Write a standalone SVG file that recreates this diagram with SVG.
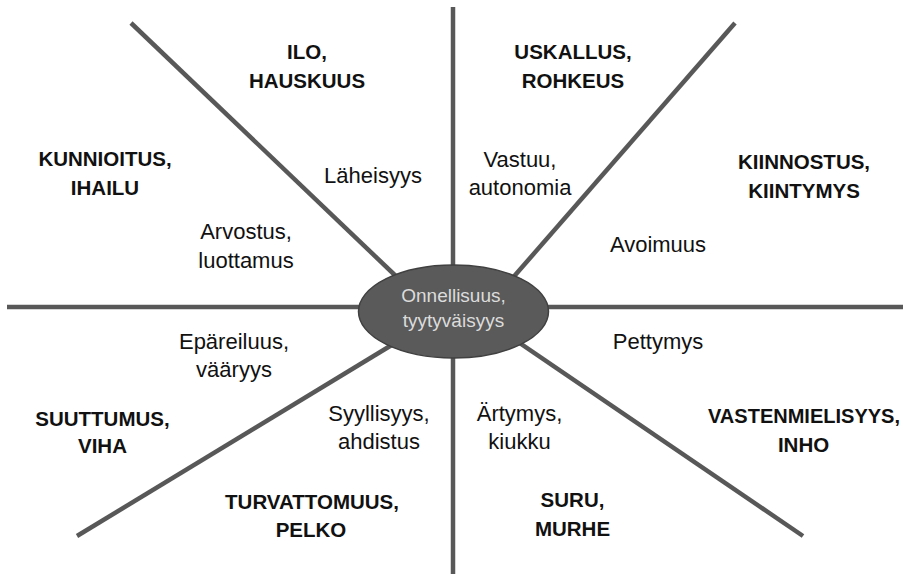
<svg xmlns="http://www.w3.org/2000/svg" width="903" height="574" viewBox="0 0 903 574">
<style>
.ln{stroke:#585858;stroke-width:4.5;fill:none}
.b{font-family:"Liberation Sans",Arial,sans-serif;font-weight:bold;font-size:20.5px;fill:#111;text-anchor:middle}
.r{font-family:"Liberation Sans",Arial,sans-serif;font-size:22px;fill:#111;text-anchor:middle}
.c{font-family:"Liberation Sans",Arial,sans-serif;font-size:19px;fill:#dcdcdc;text-anchor:middle}
</style>
<rect width="903" height="574" fill="#fff"/>
<g id="connectors">
<line class="ln" x1="453" y1="7" x2="453" y2="574"/>
<line class="ln" x1="7" y1="307" x2="903" y2="307"/>
<line class="ln" x1="131" y1="23" x2="400" y2="280"/>
<line class="ln" x1="735" y1="23" x2="510" y2="281"/>
<line class="ln" x1="77" y1="536" x2="400" y2="340"/>
<line class="ln" x1="803" y1="536" x2="508" y2="335"/>
</g>
<g id="center">
<ellipse cx="453.5" cy="311.5" rx="95" ry="46.5" fill="#5a5a5a" stroke="#404040" stroke-width="1.5"/>
<text class="c" x="453.5" y="302">Onnellisuus,</text>
<text class="c" x="453.5" y="327">tyytyväisyys</text>
</g>
<g id="ilo"><text class="b" x="307" y="59">ILO,</text><text class="b" x="307" y="88">HAUSKUUS</text></g>
<g id="kunnioitus"><text class="b" x="105" y="166">KUNNIOITUS,</text><text class="b" x="105" y="195">IHAILU</text></g>
<g id="laheisyys"><text class="r" x="373" y="183">Läheisyys</text></g>
<g id="arvostus"><text class="r" x="246" y="239">Arvostus,</text><text class="r" x="246" y="268">luottamus</text></g>
<g id="uskallus"><text class="b" x="573" y="59">USKALLUS,</text><text class="b" x="573" y="88">ROHKEUS</text></g>
<g id="vastuu"><text class="r" x="520" y="167">Vastuu,</text><text class="r" x="520" y="195">autonomia</text></g>
<g id="kiinnostus"><text class="b" x="804" y="169">KIINNOSTUS,</text><text class="b" x="804" y="198">KIINTYMYS</text></g>
<g id="avoimuus"><text class="r" x="658" y="252">Avoimuus</text></g>
<g id="epareiluus"><text class="r" x="234" y="349">Epäreiluus,</text><text class="r" x="234" y="377">vääryys</text></g>
<g id="suuttumus"><text class="b" x="102.5" y="426">SUUTTUMUS,</text><text class="b" x="102.5" y="453">VIHA</text></g>
<g id="syyllisyys"><text class="r" x="379" y="421">Syyllisyys,</text><text class="r" x="379" y="449">ahdistus</text></g>
<g id="turvattomuus"><text class="b" x="312" y="509">TURVATTOMUUS,</text><text class="b" x="311" y="537">PELKO</text></g>
<g id="pettymys"><text class="r" x="658" y="349">Pettymys</text></g>
<g id="artymys"><text class="r" x="519.5" y="421">Ärtymys,</text><text class="r" x="519.5" y="449">kiukku</text></g>
<g id="vastenmielisyys"><text class="b" x="804" y="423" textLength="192" lengthAdjust="spacingAndGlyphs">VASTENMIELISYYS,</text><text class="b" x="803.5" y="452">INHO</text></g>
<g id="suru"><text class="b" x="572.5" y="507">SURU,</text><text class="b" x="572.5" y="536">MURHE</text></g>
</svg>
